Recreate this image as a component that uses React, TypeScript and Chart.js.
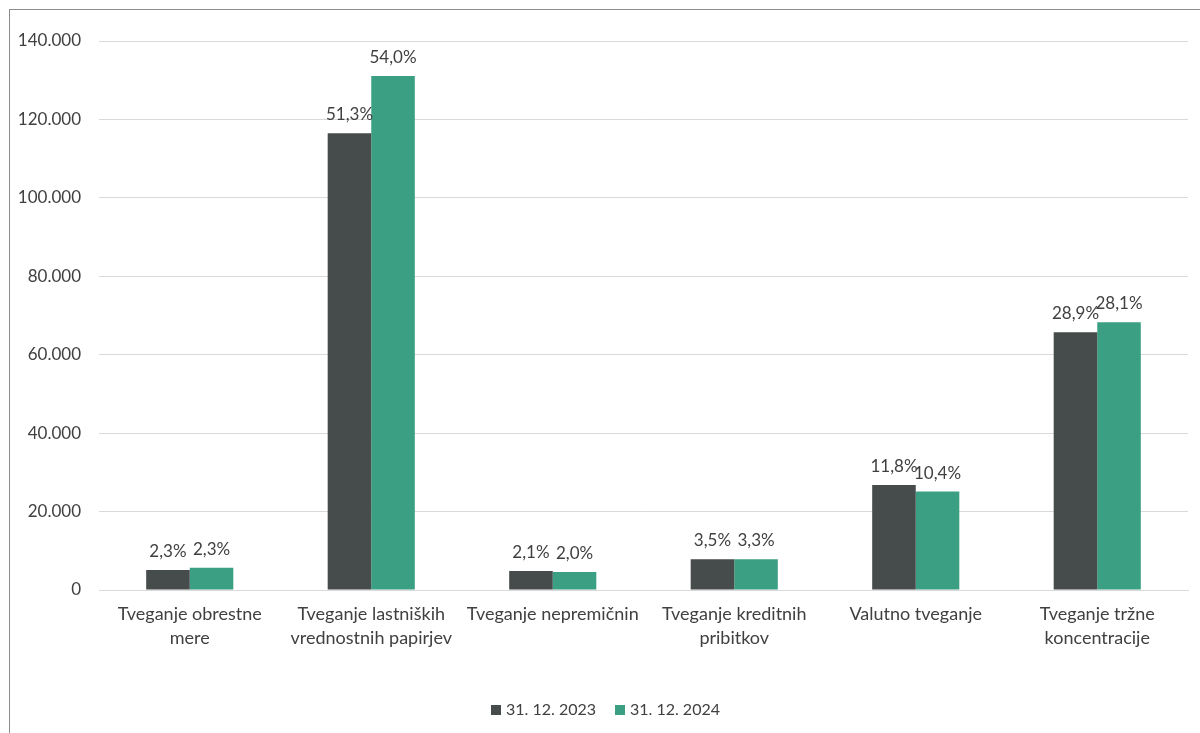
import React, { useEffect, useRef } from "react";
import { Chart, registerables } from "chart.js";

Chart.register(...registerables);

const categories: (string | string[])[] = [
  ["Tveganje obrestne", "mere"],
  ["Tveganje lastniških", "vrednostnih papirjev"],
  "Tveganje nepremičnin",
  ["Tveganje kreditnih", "pribitkov"],
  "Valutno tveganje",
  ["Tveganje tržne", "koncentracije"],
];

const seriesNames = ["31. 12. 2023", "31. 12. 2024"];
const values2023 = [5100, 116500, 4850, 7850, 26800, 65700];
const values2024 = [5700, 131100, 4600, 7850, 25100, 68300];
const pct2023 = ["2,3%", "51,3%", "2,1%", "3,5%", "11,8%", "28,9%"];
const pct2024 = ["2,3%", "54,0%", "2,0%", "3,3%", "10,4%", "28,1%"];
const yTicksMax = 140000;
const yTickStep = 20000;

const colors = ["#464c4b", "#3ba083"];
const FONT = "Lato";
const TEXT = "#404040";

const fmt = (v: number) =>
  String(v).replace(/\B(?=(\d{3})+(?!\d))/g, ".");

const pctLabels = [pct2023, pct2024];

const labelPlugin = {
  id: "pctLabels",
  afterDatasetsDraw(chart: any) {
    const ctx = chart.ctx;
    ctx.save();
    ctx.font = `17px ${FONT}`;
    ctx.fillStyle = TEXT;
    ctx.textAlign = "center";
    ctx.textBaseline = "alphabetic";
    chart.data.datasets.forEach((_: any, di: number) => {
      const meta = chart.getDatasetMeta(di);
      meta.data.forEach((bar: any, i: number) => {
        ctx.fillText(pctLabels[di][i], bar.x, bar.y - 13);
      });
    });
    ctx.restore();
  },
};

const legendPlugin = {
  id: "customLegend",
  afterDraw(chart: any) {
    const ctx = chart.ctx;
    ctx.save();
    ctx.font = `16px ${FONT}`;
    ctx.textBaseline = "middle";
    ctx.textAlign = "left";
    const box = 10;
    const gap = 5;
    const itemGap = 19;
    const widths = chart.data.datasets.map((d: any) => ctx.measureText(d.label).width);
    const total =
      widths.reduce((a: number, w: number) => a + box + gap + w, 0) +
      itemGap * (widths.length - 1);
    let x = 605.5 - total / 2;
    const cy = 710;
    chart.data.datasets.forEach((d: any, i: number) => {
      ctx.fillStyle = d.backgroundColor;
      ctx.fillRect(x, cy - box / 2, box, box);
      ctx.fillStyle = TEXT;
      ctx.fillText(d.label, x + box + gap, cy);
      x += box + gap + widths[i] + itemGap;
    });
    ctx.restore();
  },
};

export default function App() {
  const ref = useRef<HTMLCanvasElement | null>(null);
  useEffect(() => {
    if (!ref.current) return;
    const chart = new Chart(ref.current, {
      type: "bar",
      data: {
        labels: categories,
        datasets: [
          { label: seriesNames[0], data: values2023, backgroundColor: colors[0] },
          { label: seriesNames[1], data: values2024, backgroundColor: colors[1] },
        ],
      },
      options: {
        animation: false,
        responsive: false,
        maintainAspectRatio: false,
        layout: { padding: { top: 41, right: 12, left: 0, bottom: 50 } },
        datasets: { bar: { categoryPercentage: 0.48, barPercentage: 1.0 } },
        scales: {
          x: {
            grid: { display: false },
            border: { color: "#d9d9d9", width: 1 },
            ticks: {
              color: TEXT,
              font: { family: FONT, size: 18, lineHeight: 1.33 },
              padding: 4,
              maxRotation: 0,
              autoSkip: false,
            },
            afterFit(scale: any) {
              scale.height = 93;
            },
          },
          y: {
            min: 0,
            max: yTicksMax,
            grid: { color: "#d9d9d9", drawTicks: false, lineWidth: 1 },
            border: { display: false },
            ticks: {
              stepSize: yTickStep,
              color: TEXT,
              font: { family: FONT, size: 17 },
              padding: 18,
              callback: (v: any) => fmt(Number(v)),
            },
            afterFit(scale: any) {
              scale.width = 99;
            },
          },
        },
        plugins: {
          legend: { display: false },
          tooltip: { enabled: false },
        },
      },
      plugins: [labelPlugin, legendPlugin],
    });
    return () => chart.destroy();
  }, []);

  return (
    <div style={{ position: "absolute", left: 0, top: 0, width: 1200, height: 733 }}>
      <div
        style={{
          position: "absolute",
          left: 9,
          top: 9,
          width: 1191,
          height: 724,
          boxSizing: "border-box",
          borderLeft: "1px solid #8c8c8c",
          borderTop: "1px solid #8c8c8c",
        }}
      />
      <canvas
        ref={ref}
        width={1200}
        height={733}
        style={{ position: "absolute", left: 0, top: 0, width: 1200, height: 733 }}
      />
    </div>
  );
}
